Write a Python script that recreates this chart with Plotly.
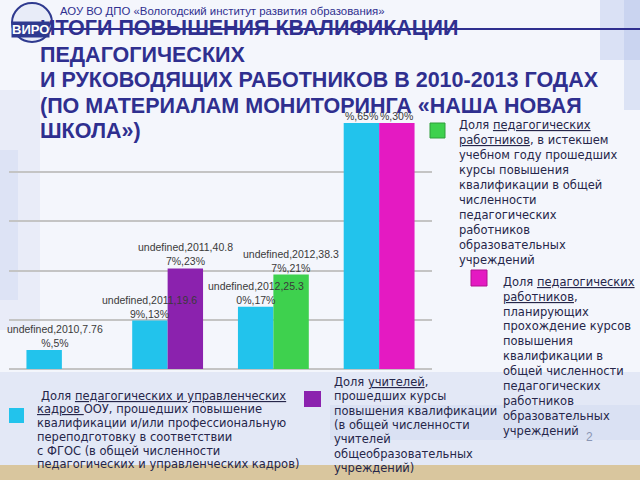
import plotly.graph_objects as go

# ---------------- data ----------------
years = ["2010", "2011", "2012", "2013"]
cyan_vals = [7.76, 19.69, 25.30, 100]
cyan_pct = ["5%", "13%", "17%", "65%"]
purple_years = ["2011"]
purple_vals = [40.87]
purple_pct = ["23%"]
green_years = ["2012"]
green_vals = [38.37]
green_pct = ["21%"]
pink_years = ["2013"]
pink_vals = [100]
pink_pct = ["30%"]

C_CYAN = "#22C3EC"
C_PURPLE = "#8B22AE"
C_GREEN = "#3ED14E"
C_PINK = "#E41AC2"

title_lines = [
    "ИТОГИ ПОВЫШЕНИЯ КВАЛИФИКАЦИИ",
    "ПЕДАГОГИЧЕСКИХ",
    "И РУКОВОДЯЩИХ РАБОТНИКОВ В 2010-2013 ГОДАХ",
    "(ПО МАТЕРИАЛАМ МОНИТОРИНГА «НАША НОВАЯ",
    "ШКОЛА»)",
]
header = "АОУ ВО ДПО «Вологодский институт развития образования»"

green_lines = ["Доля <u>педагогических</u>", "<u>работников</u>, в истекшем",
               "учебном году прошедших", "курсы повышения", "квалификации в общей",
               "численности", "педагогических", "работников", "образовательных",
               "учреждений"]
pink_lines = ["Доля <u>педагогических</u>", "<u>работников</u>,", "планирующих",
              "прохождение курсов", "повышения", "квалификации в",
              "общей численности", "педагогических", "работников",
              "образовательных", "учреждений"]
cyan_lines = ["Доля <u>педагогических и управленческих</u>",
              "<u>кадров </u>ООУ, прошедших повышение",
              "квалификации и/или профессиональную",
              "переподготовку в соответствии",
              "с ФГОС (в общей численности",
              "педагогических и управленческих кадров)"]
purple_lines = ["Доля <u>учителей</u>,", "прошедших курсы", "повышения квалификации",
                "(в общей численности", "учителей", "общеобразовательных",
                "учреждений)"]

# ---------------- layout geometry ----------------
W, H = 640, 480
ml, mr, mt, mb = 9, 208, 123, 111
pw, ph = W - ml - mr, H - mt - mb
BARGAP = 0.33

idx = {y: i for i, y in enumerate(years)}


def xp(X):
    return (X - ml) / pw


def yp(Y):
    return (H - mb - Y) / ph


fig = go.Figure()
fig.add_trace(go.Bar(x=[idx[y] for y in years], y=cyan_vals, marker_color=C_CYAN,
                     offsetgroup="a", marker_line_width=0, showlegend=False))
fig.add_trace(go.Bar(x=[idx[y] for y in purple_years], y=purple_vals, marker_color=C_PURPLE,
                     offsetgroup="b", marker_line_width=0, showlegend=False))
fig.add_trace(go.Bar(x=[idx[y] for y in green_years], y=green_vals, marker_color=C_GREEN,
                     offsetgroup="b", marker_line_width=0, showlegend=False))
fig.add_trace(go.Bar(x=[idx[y] for y in pink_years], y=pink_vals, marker_color=C_PINK,
                     offsetgroup="b", marker_line_width=0, showlegend=False))

annotations = []
shapes = []

# ---- data labels ----
cat_px = pw / len(years)
bar_off = (1 - BARGAP) / 4 * cat_px


def label_text(year, val, pct):
    s = f"undefined,{year},{val:.2f}%,{pct}"
    return s[:19] + "<br>" + s[19:]


def add_label(year, val, pct, side, extra=0, tail_only=False):
    txt = label_text(year, val, pct)
    if tail_only:
        txt = f"%,{pct}"
    annotations.append(dict(x=idx[year], y=min(val, 100), xref="x", yref="y", text=txt,
                            showarrow=False, yanchor="bottom", xanchor="center",
                            xshift=side * bar_off + extra, yshift=-1,
                            font=dict(family="Liberation Sans", size=10.5, color="#3a3a3a")))


for i, (yv, v, p) in enumerate(zip(years, cyan_vals, cyan_pct)):
    add_label(yv, v, p, -1, extra=(11 if i == 0 else 0), tail_only=(v >= 100))
for yv, v, p in zip(purple_years, purple_vals, purple_pct):
    add_label(yv, v, p, 1)
for yv, v, p in zip(green_years, green_vals, green_pct):
    add_label(yv, v, p, 1)
for yv, v, p in zip(pink_years, pink_vals, pink_pct):
    add_label(yv, v, p, 1, tail_only=(v >= 100))

# ---- background shapes ----
def rect(x0, y0, x1, y1, color, opacity=1.0, layer="below", line=None):
    shapes.append(dict(type="rect", xref="paper", yref="paper",
                       x0=xp(x0), x1=xp(x1), y0=yp(y1), y1=yp(y0),
                       fillcolor=color, opacity=opacity, layer=layer,
                       line=line or dict(width=0)))


rect(0, 90, 40, 330, "#D3DBF2", 0.35)
rect(0, 150, 18, 300, "#C3CEEE", 0.3)
rect(600, 0, 640, 60, "#B5C2EA", 0.4)
rect(624, 0, 640, 110, "#A6B6E6", 0.3)
rect(0, 372, 640, 466, "#DCE2F4", 0.7)
rect(330, 405, 640, 440, "#C9D3EE", 0.35)
rect(0, 465, 640, 480, "#D9C69E")

# ---- title, header, logo ----
shapes.append(dict(type="line", xref="paper", yref="paper",
                   x0=xp(20), x1=xp(640), y0=yp(29), y1=yp(29),
                   line=dict(color="#2F2F8F", width=2), layer="above"))
title_y = [28, 55, 80, 106, 131]
for t, ty in zip(title_lines, title_y):
    annotations.append(dict(x=xp(38), y=yp(ty), xref="paper", yref="paper",
                            text=t, showarrow=False, xanchor="left", yanchor="middle",
                            font=dict(family="Liberation Sans", size=21.5, color="#2F2F8F",
                                      weight="bold")))
annotations.append(dict(x=xp(58), y=yp(11), xref="paper", yref="paper", text=header,
                        showarrow=False, xanchor="left", yanchor="middle",
                        font=dict(family="Liberation Sans", size=11.4, color="#2F2F8F")))
shapes.append(dict(type="circle", xref="paper", yref="paper",
                   x0=xp(12), x1=xp(52), y0=yp(42), y1=yp(3),
                   line=dict(color="#2F3A8F", width=2), fillcolor="#E8ECF8", layer="above"))
annotations.append(dict(x=xp(30), y=yp(29), xref="paper", yref="paper",
                        text="<b>ВИРО</b>", showarrow=False, xanchor="center", yanchor="middle",
                        bgcolor="#2F3A8F", borderpad=0,
                        font=dict(family="Liberation Sans", size=13, color="white")))

# ---- legend blocks ----
def add_block(lines, xs, y0, dy, size=11.5):
    if not isinstance(xs, list):
        xs = [xs] * len(lines)
    for k, (ln, xx) in enumerate(zip(lines, xs)):
        annotations.append(dict(x=xp(xx), y=yp(y0 + k * dy), xref="paper", yref="paper",
                                text=ln, showarrow=False, xanchor="left", yanchor="middle",
                                font=dict(family="DejaVu Sans", size=size, color="#26264A")))


rect(430, 123, 445, 138, C_GREEN, layer="above", line=dict(color="#2E9E3A", width=1))
add_block(green_lines, 457, 125, 15)
rect(471, 270, 487, 286, C_PINK, layer="above", line=dict(color="#B0108F", width=1))
add_block(pink_lines, 501, 281.7, 14.9)
rect(9, 408, 24, 423, C_CYAN, layer="above")
add_block(cyan_lines, [39, 35, 35, 35, 35, 35], 395.7, 13.7)
rect(304, 391, 321, 407, C_PURPLE, layer="above")
add_block(purple_lines, 331.7, 381.7, 14.4)

annotations.append(dict(x=xp(595), y=yp(446), xref="paper", yref="paper", text="2",
                        showarrow=False, font=dict(family="Liberation Sans", size=12,
                                                   color="#8A96B4")))

fig.update_layout(
    width=W, height=H,
    margin=dict(l=ml, r=mr, t=mt, b=mb, pad=0),
    paper_bgcolor="#F4F6FC", plot_bgcolor="rgba(0,0,0,0)",
    barmode="group", bargap=BARGAP, bargroupgap=0,
    showlegend=False,
    annotations=annotations, shapes=shapes,
    xaxis=dict(range=[-0.5, len(years) - 0.5], autorange=False,
               tickvals=list(range(len(years))), ticktext=years,
               showticklabels=False, showgrid=False, zeroline=False,
               showline=False, ticks=""),
    yaxis=dict(range=[0, 100], autorange=False, dtick=20, showticklabels=False, showgrid=True,
               gridcolor="#C4C4C4", gridwidth=1.5, zeroline=True, zerolinecolor="#C4C4C4",
               zerolinewidth=1.5, showline=False, ticks=""),
)

fig.write_html("out.html")
